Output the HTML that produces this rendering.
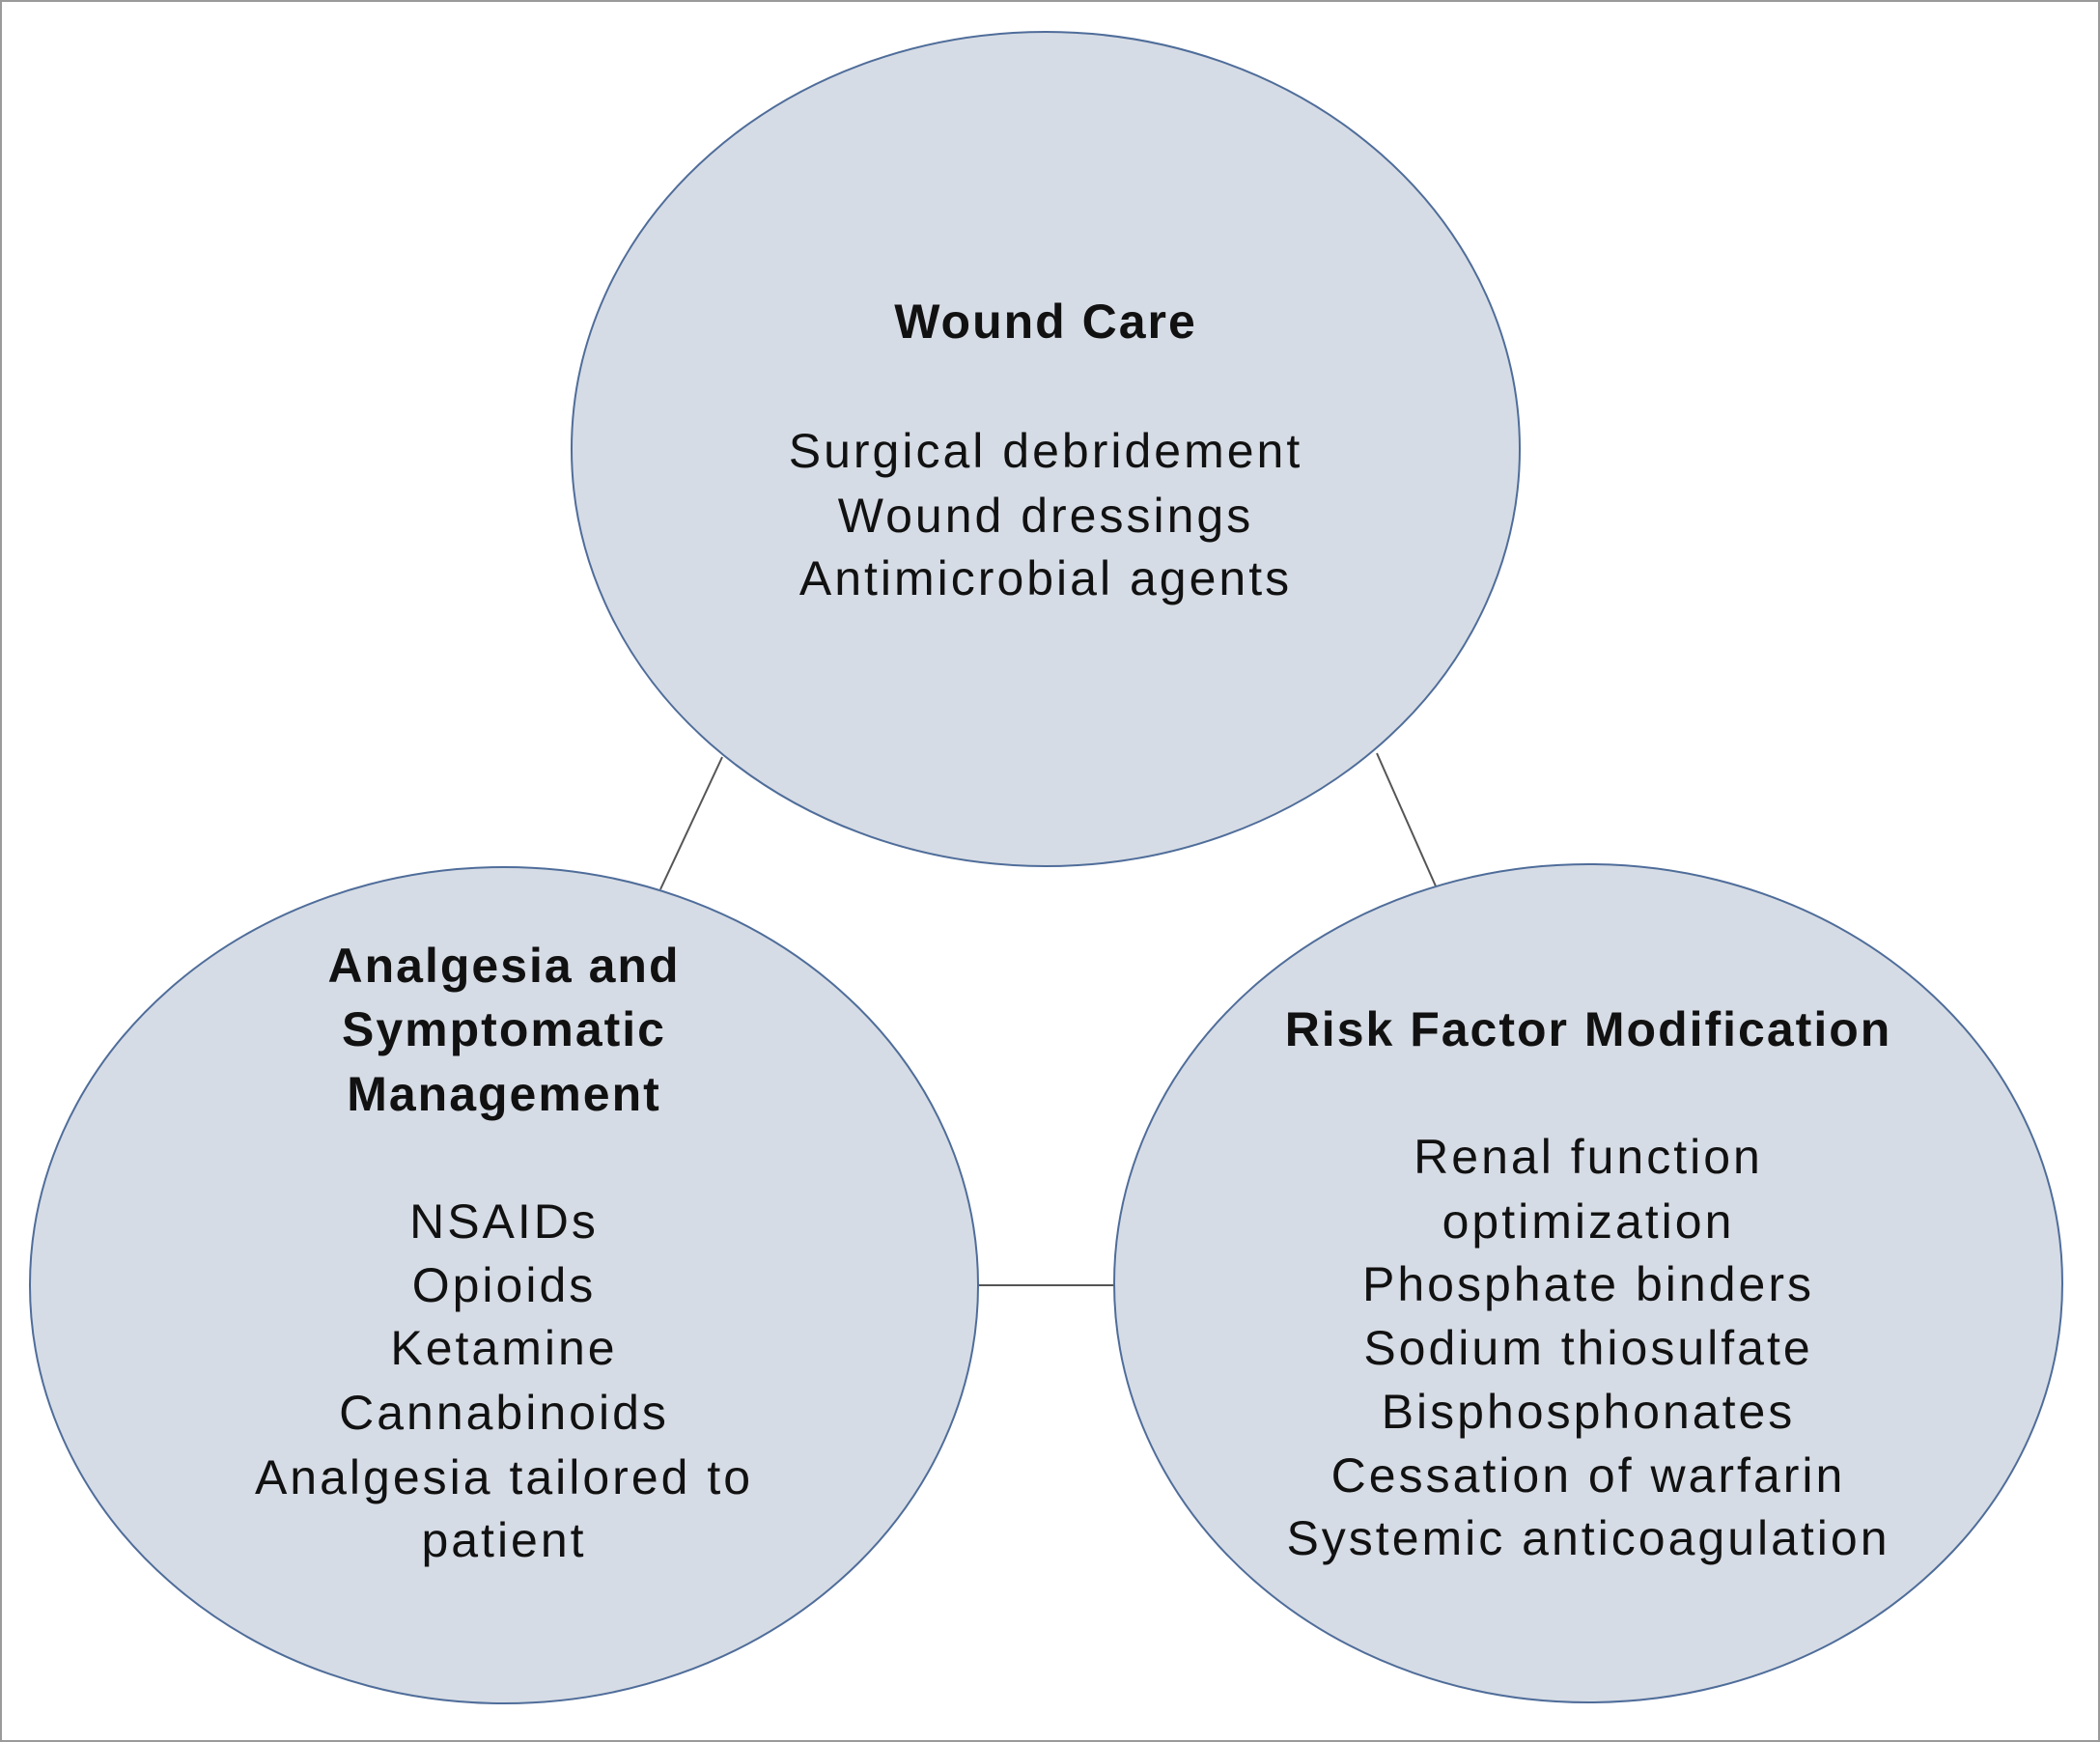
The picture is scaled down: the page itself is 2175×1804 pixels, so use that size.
<!DOCTYPE html>
<html><head><meta charset="utf-8"><style>
html,body{margin:0;padding:0;background:#fff}
svg{display:block}
text{font-family:"Liberation Sans",sans-serif;font-size:50px;fill:#111;text-anchor:middle;letter-spacing:3px}
.b{font-weight:bold;letter-spacing:2px}
</style></head><body>
<svg width="2175" height="1804" viewBox="0 0 2175 1804" xmlns="http://www.w3.org/2000/svg">
<rect x="1" y="1" width="2173" height="1802" fill="#fff" stroke="#9a9a9a" stroke-width="2"/>
<line x1="748" y1="784" x2="684" y2="921" stroke="#555" stroke-width="2"/>
<line x1="1426" y1="780" x2="1488" y2="920" stroke="#555" stroke-width="2"/>
<line x1="1013" y1="1331" x2="1154" y2="1331" stroke="#555" stroke-width="2"/>
<ellipse cx="1083" cy="465" rx="491" ry="432" fill="#d6dce5" stroke="#4f6d9a" stroke-width="2"/>
<ellipse cx="522" cy="1331" rx="491" ry="433" fill="#d6dce5" stroke="#4f6d9a" stroke-width="2"/>
<ellipse cx="1645" cy="1329" rx="491" ry="434" fill="#d6dce5" stroke="#4f6d9a" stroke-width="2"/>
<g>
<text class="b" x="1083" y="350">Wound Care</text>
<text x="1083" y="484">Surgical debridement</text>
<text x="1083" y="551">Wound dressings</text>
<text x="1083" y="616">Antimicrobial agents</text>
</g>
<g>
<text class="b" x="522" y="1017">Analgesia and</text>
<text class="b" x="522" y="1083">Symptomatic</text>
<text class="b" x="522" y="1150">Management</text>
<text x="522" y="1282">NSAIDs</text>
<text x="522" y="1348">Opioids</text>
<text x="522" y="1413">Ketamine</text>
<text x="522" y="1480">Cannabinoids</text>
<text x="522" y="1547">Analgesia tailored to</text>
<text x="522" y="1612">patient</text>
</g>
<g>
<text class="b" x="1645" y="1083">Risk Factor Modification</text>
<text x="1645" y="1215">Renal function</text>
<text x="1645" y="1282">optimization</text>
<text x="1645" y="1347">Phosphate binders</text>
<text x="1645" y="1413">Sodium thiosulfate</text>
<text x="1645" y="1479">Bisphosphonates</text>
<text x="1645" y="1545">Cessation of warfarin</text>
<text x="1645" y="1610">Systemic anticoagulation</text>
</g>
</svg>
</body></html>
